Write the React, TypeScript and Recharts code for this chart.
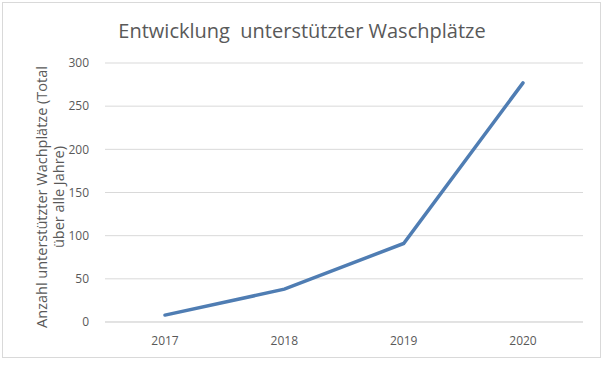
import React from 'react';
import { LineChart, Line, XAxis, YAxis, CartesianGrid } from 'recharts';

const years = ['2017', '2018', '2019', '2020'];
const washPlaces = [8, 38, 91, 277];
const yTicks = [0, 50, 100, 150, 200, 250, 300];

const chartTitle = 'Entwicklung  unterstützter Waschplätze';
const yLabelLines = ['Anzahl unterstützter Wachplätze (Total', 'über alle Jahre)'];

const data = years.map((year, i) => ({ year, value: washPlaces[i] }));

const FONT = '"Open Sans", "Noto Sans", sans-serif';
const TEXT = '#595959';

const YLabel = () => (
  <text
    transform="translate(47, 197) rotate(-90)"
    textAnchor="middle"
    fill={TEXT}
    fontSize={14.5}
    fontFamily={FONT}
  >
    <tspan x={0} dy={0}>{yLabelLines[0]}</tspan>
    <tspan x={0} dy={17}>{yLabelLines[1]}</tspan>
  </text>
);

export default function App() {
  return (
    <div
      style={{
        position: 'absolute',
        left: 0,
        top: 0,
        width: 605,
        height: 365,
        background: '#fff',
      }}
    >
      <div
        style={{
          position: 'absolute',
          left: 2,
          top: 2,
          width: 597,
          height: 354,
          border: '1px solid #d9d9d9',
        }}
      />
      <LineChart
        width={605}
        height={365}
        data={data}
        margin={{ top: 63, right: 22, bottom: 0, left: 0 }}
        style={{ position: 'absolute', left: 0, top: 0 }}
      >
        <text
          x={302}
          y={38}
          textAnchor="middle"
          fill={TEXT}
          fontSize={20}
          fontFamily={FONT}
          style={{ whiteSpace: 'pre' }}
        >
          {chartTitle}
        </text>
        <YLabel />
        <CartesianGrid vertical={false} stroke="#d9d9d9" strokeWidth={1} />
        <XAxis
          dataKey="year"
          padding={{ left: 60, right: 60 }}
          axisLine={{ stroke: '#d9d9d9' }}
          tickLine={false}
          tickMargin={8}
          height={43}
          tick={{ fill: TEXT, fontSize: 12, fontFamily: FONT }}
        />
        <YAxis
          width={105}
          domain={[0, 300]}
          ticks={yTicks}
          axisLine={false}
          tickLine={false}
          tickMargin={10}
          tick={{ fill: TEXT, fontSize: 12, fontFamily: FONT }}
        />
        <Line
          type="linear"
          dataKey="value"
          stroke="#4f7db3"
          strokeWidth={3.5}
          dot={false}
          strokeLinecap="round"
          isAnimationActive={false}
        />
      </LineChart>
    </div>
  );
}
